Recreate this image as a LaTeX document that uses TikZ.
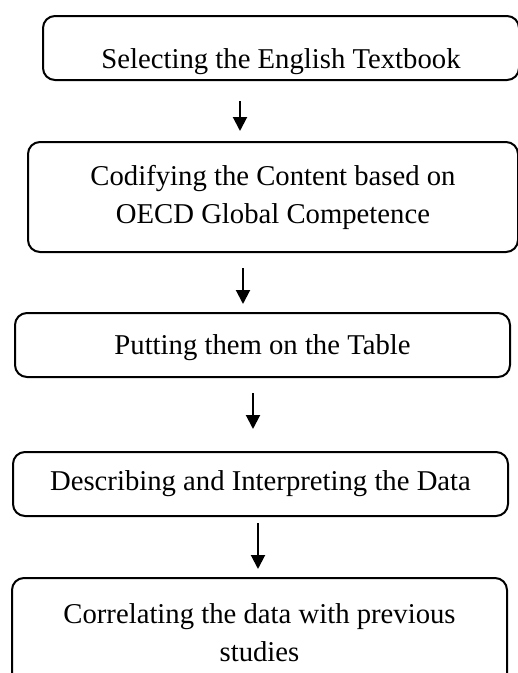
\documentclass[tikz,border=0pt]{standalone}
\usepackage{fontspec}
\setmainfont{Liberation Serif}
\usetikzlibrary{arrows.meta}
\begin{document}
\begin{tikzpicture}[x=1pt,y=-1pt,
  stepbox/.style={draw=black, line width=2pt, rounded corners=12pt,
    align=center, inner sep=0pt, font=\fontsize{28.7}{38}\selectfont},
  flow/.style={line width=2pt, -{Triangle[width=14pt,length=14pt]}}]
  \clip (0,0) rectangle (518,673);
  \fill[white] (0,0) rectangle (518,673);

  % process steps
  \node[stepbox, minimum width=476pt, minimum height=64pt] (b1) at (281,48)
    {\raisebox{-14pt}[\height][\depth]{Selecting the English Textbook}};
  \node[stepbox, minimum width=490pt, minimum height=110pt] (b2) at (273,197)
    {Codifying the Content based on\\OECD Global Competence};
  \node[stepbox, minimum width=495pt, minimum height=64pt] (b3) at (262.5,345)
    {\raisebox{-3pt}[\height][\depth]{Putting them on the Table}};
  \node[stepbox, minimum width=495pt, minimum height=64pt] (b4) at (260.5,484)
    {Describing and Interpreting the Data};
  \node[stepbox, minimum width=495pt, minimum height=110pt] (b5) at (259.5,633)
    {Correlating the data with previous\\studies};

  % arrow columns
  \coordinate (c1) at (240,0);
  \coordinate (c2) at (243,0);
  \coordinate (c3) at (253,0);
  \coordinate (c4) at (258,0);

  \draw[flow, shorten <=20pt, shorten >=10pt] (b1.south -| c1) -- (b2.north -| c1);
  \draw[flow, shorten <=15pt, shorten >=8pt]  (b2.south -| c2) -- (b3.north -| c2);
  \draw[flow, shorten <=15pt, shorten >=22pt] (b3.south -| c3) -- (b4.north -| c3);
  \draw[flow, shorten <=6pt,  shorten >=8pt]  (b4.south -| c4) -- (b5.north -| c4);
\end{tikzpicture}
\end{document}
